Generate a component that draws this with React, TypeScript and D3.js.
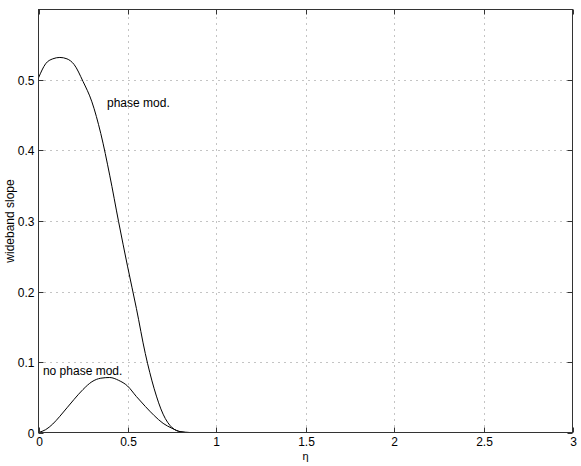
import React from "react";
import * as d3 from "d3";

// eta values (x) shared by both curves
const eta = [0, 0.04, 0.08, 0.12, 0.16, 0.2, 0.25, 0.3, 0.35, 0.4, 0.45, 0.5, 0.55, 0.6, 0.65, 0.7, 0.75, 0.8, 0.85, 3];
// wideband slope with phase modulation
const phaseMod = [0.503, 0.523, 0.530, 0.532, 0.530, 0.522, 0.498, 0.469, 0.424, 0.365, 0.299, 0.236, 0.176, 0.112, 0.062, 0.026, 0.007, 0.001, 0, 0];
// wideband slope without phase modulation
const noPhaseMod = [0, 0.004, 0.012, 0.023, 0.035, 0.047, 0.061, 0.072, 0.077, 0.078, 0.074, 0.066, 0.051, 0.037, 0.024, 0.013, 0.006, 0.001, 0, 0];

const xTicks = [0, 0.5, 1, 1.5, 2, 2.5, 3];
const yTicks = [0, 0.1, 0.2, 0.3, 0.4, 0.5];

const labels = [
  { text: "phase mod.", eta: 0.385, value: 0.462 },
  { text: "no phase mod.", eta: 0.025, value: 0.081 },
];

const App = () => {
  const width = 581;
  const height = 466;
  const marginLeft = 38.5;
  const marginRight = 8.5;
  const marginTop = 9.5;
  const marginBottom = 33.5;

  const x = d3.scaleLinear().domain([0, 3]).range([marginLeft, width - marginRight]);
  const y = d3.scaleLinear().domain([0, 0.6]).range([height - marginBottom, marginTop]);

  const line = d3
    .line<number>()
    .x((_, i) => x(eta[i]))
    .y((d) => y(d))
    .curve(d3.curveMonotoneX);

  const font = "'Liberation Sans', Arial, Helvetica, sans-serif";
  const tickLen = 5;
  const axisColor = "#333";
  const gridColor = "#888";

  return (
    <svg
      width={width}
      height={height}
      style={{ position: "absolute", left: 0, top: 0, background: "#fff" }}
      fontFamily={font}
    >
      <rect x={0} y={0} width={width} height={height} fill="#fff" />

      {/* grid */}
      {xTicks.slice(1, -1).map((t) => (
        <line key={"gx" + t} x1={Math.round(x(t)) + 0.5} x2={Math.round(x(t)) + 0.5} y1={y(0)} y2={y(0.6)}
          stroke={gridColor} strokeWidth={1} strokeDasharray="1,5" />
      ))}
      {yTicks.slice(1).map((t) => (
        <line key={"gy" + t} x1={x(0)} x2={x(3)} y1={Math.round(y(t)) + 0.5} y2={Math.round(y(t)) + 0.5}
          stroke={gridColor} strokeWidth={1} strokeDasharray="1,5" />
      ))}

      {/* curves */}
      <path d={line(phaseMod) ?? ""} fill="none" stroke="#000" strokeWidth={1} />
      <path d={line(noPhaseMod) ?? ""} fill="none" stroke="#000" strokeWidth={1} />

      {/* box */}
      <rect x={x(0)} y={y(0.6)} width={x(3) - x(0)} height={y(0) - y(0.6)} fill="none" stroke={axisColor} strokeWidth={1} />

      {/* ticks */}
      {xTicks.map((t) => {
        const px = Math.round(x(t)) + 0.5;
        return (
          <g key={"tx" + t}>
            <line x1={px} x2={px} y1={y(0)} y2={y(0) - tickLen} stroke={axisColor} />
            <line x1={px} x2={px} y1={y(0.6)} y2={y(0.6) + tickLen} stroke={axisColor} />
            <text x={px} y={y(0) + 13.5} textAnchor="middle" fontSize={12} fill="#000">
              {t}
            </text>
          </g>
        );
      })}
      {yTicks.map((t) => {
        const py = Math.round(y(t)) + 0.5;
        return (
          <g key={"ty" + t}>
            <line x1={x(0)} x2={x(0) + tickLen} y1={py} y2={py} stroke={axisColor} />
            <line x1={x(3)} x2={x(3) - tickLen} y1={py} y2={py} stroke={axisColor} />
            <text x={x(0) - 4} y={py + 4} textAnchor="end" fontSize={12} fill="#000">
              {t}
            </text>
          </g>
        );
      })}

      {/* axis labels */}
      <text x={x(1.5)} y={height - 6} textAnchor="middle" fontSize={11} fill="#000">
        η
      </text>
      <text
        transform={`translate(14,${(y(0) + y(0.6)) / 2}) rotate(-90)`}
        textAnchor="middle"
        fontSize={12}
        fill="#000"
      >
        wideband slope
      </text>

      {/* curve labels */}
      {labels.map((l) => (
        <text key={l.text} x={x(l.eta)} y={y(l.value)} fontSize={12} fill="#000">
          {l.text}
        </text>
      ))}
    </svg>
  );
};

export default App;
